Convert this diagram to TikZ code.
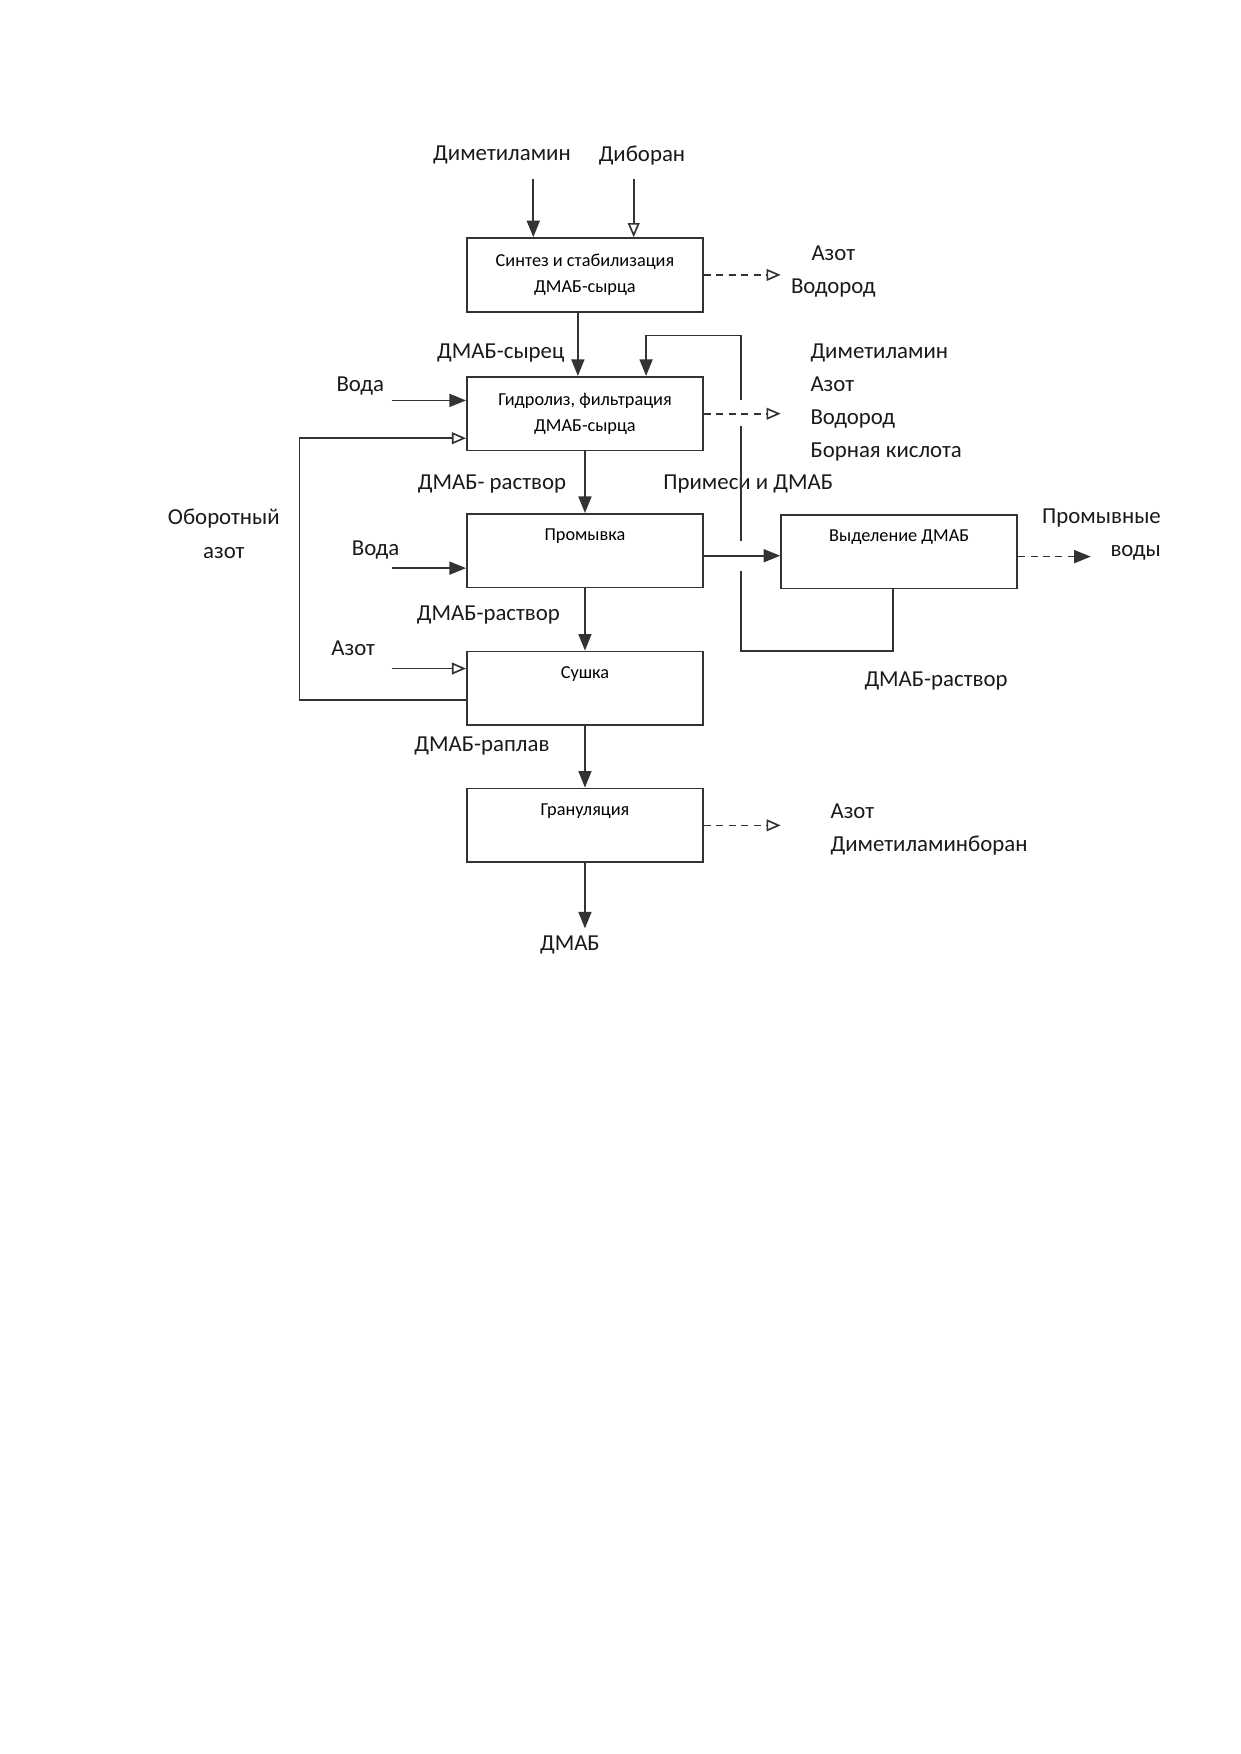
\documentclass[tikz,border=0pt]{standalone}
\usepackage{fontspec}
\setmainfont{Carlito}
\usetikzlibrary{arrows.meta,positioning,calc}

\begin{document}
\begin{tikzpicture}[
  blok/.style={draw=black!80, line width=0.8pt, minimum width=4cm, minimum height=1.25cm, inner sep=0pt, align=center, font=\fontsize{8.8}{12.4}\selectfont},
  blokname/.style={font=\fontsize{8.8}{12.4}\selectfont},
  nadpis/.style={font=\fontsize{11}{16}\selectfont, text=black!90},
  liniya/.style={draw=black!80, line width=0.8pt},
  potok/.style={liniya, -{Triangle[length=2.8mm,width=2.2mm]}},
  potokO/.style={liniya, -{Triangle[open,length=2.4mm,width=2mm]}},
  vyhod/.style={potokO, dash pattern=on 1.2mm off 0.9mm},
  vyhodZ/.style={potok, dash pattern=on 1.2mm off 0.9mm}
]
\useasboundingbox (0,0) rectangle (21,-29.7);

\node[blok] (sint) at (9.905,-4.655) {Синтез и стабилизация\\ДМАБ-сырца};
\node[blok] (gidr) at (9.905,-7.005) {Гидролиз, фильтрация\\ДМАБ-сырца};
\node[blok] (prom) at (9.905,-9.325) {};
\node[blok] (sush) at (9.905,-11.655) {};
\node[blok] (gran) at (9.905,-13.975) {};
\node[blok] (vydel) at (15.225,-9.34) {};
\node[blokname] at ([yshift=-4mm]prom.north) {Промывка};
\node[blokname] at ([yshift=-4mm]sush.north) {Сушка};
\node[blokname] at ([yshift=-4mm]gran.north) {Грануляция};
\node[blokname] at ([yshift=-4mm]vydel.north) {Выделение ДМАБ};

\node[nadpis] (dma) at (8.50,-2.63) {Диметиламин};
\node[nadpis] (dib) at (10.87,-2.63) {Диборан};
\node[nadpis, align=center] (gaz1) at (14.11,-4.60) {Азот\\Водород};
\node[nadpis] (syrec) at (8.48,-5.98) {ДМАБ-сырец};
\node[nadpis] (voda1) at (6.10,-6.53) {Вода};
\node[nadpis, anchor=west, align=left] (gaz2) at (13.6,-6.815) {Диметиламин\\Азот\\Водород\\Борная кислота};
\node[nadpis] (rastv1) at (8.33,-8.20) {ДМАБ- раствор};
\node[nadpis] (primesi) at (12.67,-8.20) {Примеси и ДМАБ};
\node[nadpis, align=center] (oborot) at (3.79,-9.04) {Оборотный\\азот};
\node[nadpis] (voda2) at (6.36,-9.31) {Вода};
\node[nadpis, anchor=east, align=right] (promvod) at (19.78,-9.05) {Промывные\\воды};
\node[nadpis] (rastv2) at (8.27,-10.41) {ДМАБ-раствор};
\node[nadpis] (azot) at (5.98,-10.98) {Азот};
\node[nadpis] (rastv3) at (15.85,-11.53) {ДМАБ-раствор};
\node[nadpis] (raplav) at (8.16,-12.63) {ДМАБ-раплав};
\node[nadpis, anchor=west, align=left] (gaz3) at (13.94,-14.04) {Азот\\Диметиламинборан};
\node[nadpis] (dmab) at (9.65,-16.00) {ДМАБ};

\coordinate (vh1) at (9.03,-3.03);
\coordinate (vh2) at (10.73,-3.03);
\coordinate (v1) at (6.63,-6.78);
\coordinate (v2) at (6.63,-9.62);
\coordinate (v3) at (6.63,-11.32);
\coordinate (obv) at (5.07,-7.42);
\coordinate (ret1) at (12.55,-11.02);
\coordinate (ret2) at (10.94,-5.68);
\coordinate (vyh) at (9.905,-15.72);

\draw[potok] (vh1) -- (vh1 |- sint.north);
\draw[potokO] (vh2) -- (vh2 |- sint.north);
\draw[vyhod] (sint.east) -- ++(1.3,0);
\draw[potok] ([xshift=-1.2mm]sint.south) -- ([xshift=-1.2mm]gidr.north);
\draw[potok] (v1) -- (v1 -| gidr.west);
\draw[vyhod] (gidr.east) -- ++(1.3,0);
\draw[potok] (gidr.south) -- (prom.north);
\draw[potok] (v2) -- (v2 -| prom.west);
\draw[potok] ([yshift=-0.85mm]prom.east) -- ([yshift=-0.85mm]prom.east -| vydel.west);
\draw[vyhodZ] ([yshift=-0.85mm]vydel.east) -- ++(1.23,0);
\draw[potok] (prom.south) -- (sush.north);
\draw[potokO] (v3) -- (v3 -| sush.west);
\draw[potokO] ([yshift=-2mm]sush.west) -| (obv) -- (obv -| gidr.west);
\draw[potok] (sush.south) -- (gran.north);
\draw[vyhod] (gran.east) -- ++(1.3,0);
\draw[potok] (gran.south) -- (vyh);

\draw[liniya] ([xshift=-1mm]vydel.south) |- (ret1) -- ($(ret1 |- prom.east)+(0,-0.35)$);
\draw[liniya] ($(ret1 |- prom.east)+(0,0.16)$) -- ($(ret1 |- gidr.east)+(0,-0.2)$);
\draw[potok] ($(ret1 |- gidr.east)+(0,0.23)$) |- (ret2) -- (ret2 |- gidr.north);
\end{tikzpicture}
\end{document}
